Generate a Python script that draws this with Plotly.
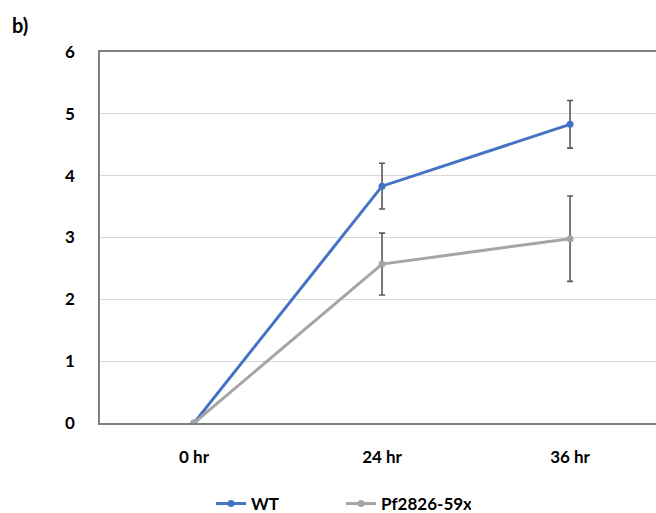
import plotly.graph_objects as go

categories = ["0 hr", "24 hr", "36 hr"]
wt_values = [0, 3.83, 4.83]
wt_err = [0, 0.37, 0.385]
pf_values = [0, 2.57, 2.98]
pf_err = [0, 0.50, 0.69]
y_ticks = [0, 1, 2, 3, 4, 5, 6]

FONT = "Lato"

fig = go.Figure()
fig.add_trace(go.Scatter(
    x=categories, y=wt_values, name="WT", mode="lines+markers",
    line=dict(color="#4472C4", width=3), marker=dict(size=7, color="#4472C4"),
    error_y=dict(type="data", array=wt_err, visible=True, color="#595959", thickness=1.6, width=3),
))
fig.add_trace(go.Scatter(
    x=categories, y=pf_values, name="Pf2826-59x", mode="lines+markers",
    line=dict(color="#A5A5A5", width=3), marker=dict(size=7, color="#A5A5A5"),
    error_y=dict(type="data", array=pf_err, visible=True, color="#595959", thickness=1.6, width=3),
))

fig.update_layout(
    width=656, height=513,
    margin=dict(l=100, r=0, t=52, b=90),
    paper_bgcolor="white", plot_bgcolor="white",
    font=dict(family=FONT, size=17, color="#000000"),
    showlegend=True,
    legend=dict(orientation="h", xref="container", x=211/656, xanchor="left",
                yref="container", y=(513-504)/513, yanchor="middle",
                font=dict(family=FONT, size=17, color="#000000", weight="bold"),
                entrywidth=85, itemwidth=30, tracegroupgap=0),
    xaxis=dict(type="category", range=[-0.5, 2.457], showgrid=False,
               showline=True, linecolor="#7F7F7F", linewidth=1.5, mirror=True,
               ticks="", ticklabelstandoff=18,
               tickfont=dict(family=FONT, size=17, color="#000000", weight="bold")),
    yaxis=dict(range=[0, 6], tickvals=y_ticks, showgrid=True, gridcolor="#D9D9D9",
               gridwidth=1, zeroline=False, showline=True, linecolor="#7F7F7F", linewidth=1.5,
               ticks="", ticklabelstandoff=20,
               tickfont=dict(family=FONT, size=17, color="#000000", weight="bold")),
    annotations=[dict(text="b)", xref="paper", yref="paper", x=-90/556, y=1 + 27/371,
                      xanchor="left", yanchor="middle", showarrow=False,
                      font=dict(family=FONT, size=20, color="#000000", weight="bold"))],
)

fig.write_html("out.html")
